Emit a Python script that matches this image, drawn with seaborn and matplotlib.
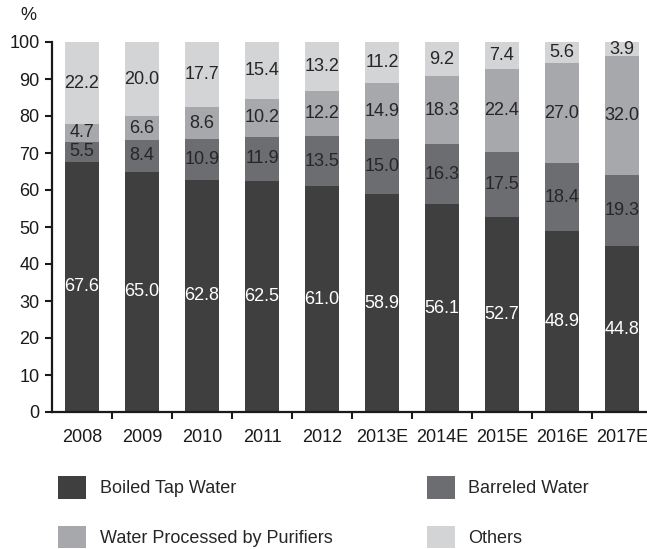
import numpy as np
import pandas as pd
import matplotlib
matplotlib.use("Agg")
import matplotlib.pyplot as plt
from matplotlib.patches import Patch
import seaborn as sns

# Household drinking water sources, share of households (%)
years = ["2008", "2009", "2010", "2011", "2012", "2013E", "2014E", "2015E", "2016E", "2017E"]
boiled_tap = [67.6, 65.0, 62.8, 62.5, 61.0, 58.9, 56.1, 52.7, 48.9, 44.8]
barreled = [5.5, 8.4, 10.9, 11.9, 13.5, 15.0, 16.3, 17.5, 18.4, 19.3]
purifiers = [4.7, 6.6, 8.6, 10.2, 12.2, 14.9, 18.3, 22.4, 27.0, 32.0]
others = [22.2, 20.0, 17.7, 15.4, 13.2, 11.2, 9.2, 7.4, 5.6, 3.9]
series_names = ["Boiled Tap Water", "Barreled Water", "Water Processed by Purifiers", "Others"]
y_ticks = [0, 10, 20, 30, 40, 50, 60, 70, 80, 90, 100]

colors = ["#3f3f3f", "#6c6d70", "#a7a8ab", "#d3d4d6"]
text_colors = ["white", "#262626", "#262626", "#262626"]

sns.set_style("ticks")
plt.rcParams["font.family"] = ["Liberation Sans", "DejaVu Sans"]

layers = np.array([boiled_tap, barreled, purifiers, others])
tops = np.cumsum(layers, axis=0)
bottoms = tops - layers

df = pd.DataFrame({"year": years})
for k in range(4):
    df[f"top{k}"] = tops[k]

fig = plt.figure(figsize=(6.47, 5.49), dpi=100)
ax = fig.add_axes([52 / 647, 137 / 549, 595 / 647, 370 / 549])

# stacked bars: draw cumulative totals from the top layer down
for k in range(3, -1, -1):
    sns.barplot(data=df, x="year", y=f"top{k}", order=years, color=colors[k],
                saturation=1, width=0.57, linewidth=0, ax=ax)

# value labels centred in each segment
for k in range(4):
    for i in range(len(years)):
        mid = (bottoms[k][i] + tops[k][i]) / 2
        ax.text(i, mid, f"{layers[k][i]:.1f}", ha="center", va="center",
                fontsize=13, color=text_colors[k])

ax.set_xlim(-0.5, -0.5 + 595 / 60)
ax.set_ylim(0, 100)
ax.set_yticks(y_ticks)
ax.set_xlabel("")
ax.set_ylabel("")
sns.despine(ax=ax)
for s in ("left", "bottom"):
    ax.spines[s].set_linewidth(1.6)
    ax.spines[s].set_color("#1a1a1a")

ax.tick_params(axis="y", length=5, width=1.5, pad=4, labelsize=13, colors="#1a1a1a")
ax.tick_params(axis="x", which="major", length=0, pad=12.5, labelsize=13, colors="#1a1a1a")
ax.set_xticks(np.arange(0.5, len(years) - 1, 1.0), minor=True)
ax.tick_params(axis="x", which="minor", length=5, width=1.5, color="#1a1a1a")

fig.text(28 / 647, 1 - 15 / 549, "%", ha="center", va="center", fontsize=13, color="#1a1a1a")

handles = [Patch(facecolor=c, edgecolor="none") for c in colors]
order = [0, 2, 1, 3]
fig.legend([handles[i] for i in order], [series_names[i] for i in order],
           ncol=2, loc="upper left", bbox_to_anchor=(58 / 647, 1 - 476 / 549),
           frameon=False, fontsize=13, handlelength=1.55, handleheight=1.55,
           handletextpad=0.77, labelspacing=1.5, columnspacing=5.2,
           borderpad=0, borderaxespad=0)

fig.savefig("out.png", dpi=100)
